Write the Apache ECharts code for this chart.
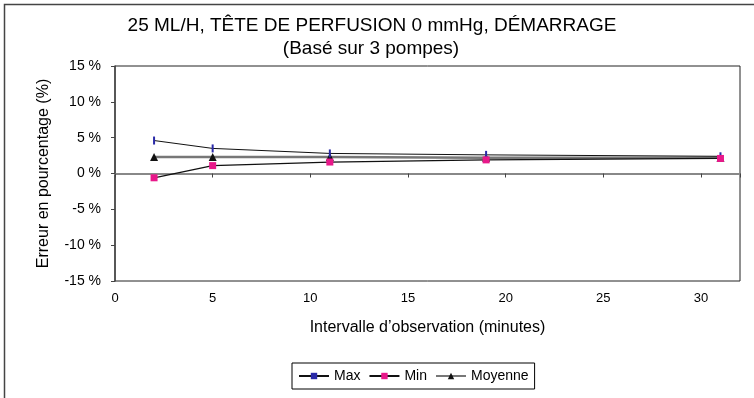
<!DOCTYPE html>
<html>
<head>
<meta charset="utf-8">
<script src="https://cdn.jsdelivr.net/npm/echarts@6/dist/echarts.min.js"></script>
<style>html,body{margin:0;padding:0;background:#fff}#c{width:754px;height:398px}</style>
</head>
<body>
<div id="c"></div>
<script>
const minutes = [2, 5, 11, 19, 31];
const maxVals = [4.6, 3.5, 2.8, 2.6, 2.4];
const minVals = [-0.6, 1.1, 1.6, 1.9, 2.1];
const moyVals = [2.3, 2.3, 2.3, 2.2, 2.2];
const xTicks = [0, 5, 10, 15, 20, 25, 30];
const yTicks = [-15, -10, -5, 0, 5, 10, 15];
const seriesNames = ['Max', 'Min', 'Moyenne'];
const titleLine1 = '25 ML/H, TÊTE DE PERFUSION 0 mmHg, DÉMARRAGE';
const titleLine2 = '(Basé sur 3 pompes)';
const xTitle = 'Intervalle d’observation (minutes)';
const yTitle = 'Erreur en pourcentage (%)';

const F = 'Liberation Sans, Arial, sans-serif';
const chart = echarts.init(document.getElementById('c'));
const pairs = v => minutes.map((m, i) => [m, v[i]]);

chart.setOption({
  animation: false,
  backgroundColor: '#fff',
  textStyle: { fontFamily: F },
  graphic: [{
    type: 'rect', shape: { x: 4.5, y: 4.5, width: 800, height: 500 },
    style: { fill: 'none', stroke: '#444', lineWidth: 1.5 }, z: -1, silent: true
  }],
  title: [
    { text: titleLine1, left: 367, top: 11, textAlign: 'center',
      textStyle: { fontSize: 19, fontWeight: 'normal', color: '#000', fontFamily: F } },
    { text: titleLine2, left: 366, top: 34, textAlign: 'center',
      textStyle: { fontSize: 19, fontWeight: 'normal', color: '#000', fontFamily: F } }
  ],
  grid: { left: 115, right: 14, top: 66, bottom: 117, show: true, borderColor: '#222', borderWidth: 1, backgroundColor: 'transparent' },
  legend: {
    data: seriesNames, left: 292, top: 363, orient: 'horizontal',
    borderColor: '#000', borderWidth: 1, padding: [6, 6, 6, 6], itemGap: 8,
    itemWidth: 30, itemHeight: 8,
    textStyle: { fontSize: 14, color: '#000', fontFamily: F }
  },
  xAxis: [{
    type: 'value', min: xTicks[0], max: 32, interval: xTicks[1] - xTicks[0],
    position: 'bottom', axisLine: { show: false, onZero: false }, axisTick: { show: false },
    splitLine: { show: false },
    axisLabel: { margin: 11, fontSize: 13, color: '#000', fontFamily: F, showMaxLabel: false,
      formatter: v => xTicks.includes(v) ? String(v) : '' },
    name: xTitle, nameLocation: 'middle', nameGap: 39,
    nameTextStyle: { fontSize: 16, color: '#000', fontFamily: F }
  }, {
    type: 'value', min: xTicks[0], max: 32, interval: xTicks[1] - xTicks[0],
    position: 'bottom',
    axisLine: { show: true, onZero: true, lineStyle: { color: '#888', width: 2 } },
    axisTick: { show: true, inside: false, length: 4, lineStyle: { color: '#444', width: 1 } },
    axisLabel: { show: false }, splitLine: { show: false }
  }],
  yAxis: {
    type: 'value', min: yTicks[0], max: yTicks[yTicks.length - 1], interval: yTicks[1] - yTicks[0],
    axisLine: { show: true, lineStyle: { color: '#444', width: 1.5 } },
    axisTick: { show: true, length: 4, lineStyle: { color: '#444' } },
    splitLine: { show: false },
    axisLabel: { margin: 14, fontSize: 14, color: '#000', fontFamily: F, formatter: '{value} %' },
    name: yTitle, nameLocation: 'middle', nameRotate: 90, nameGap: 63,
    nameTextStyle: { fontSize: 16, color: '#000', fontFamily: F }
  },
  series: [
    { name: seriesNames[0], type: 'line', data: pairs(maxVals), xAxisIndex: 0,
      symbol: 'rect', symbolSize: [2, 8], showAllSymbol: true,
      itemStyle: { color: '#2a2aa8' }, lineStyle: { color: '#111', width: 1 } },
    { name: seriesNames[1], type: 'line', data: pairs(minVals), xAxisIndex: 0,
      symbol: 'rect', symbolSize: 7,
      itemStyle: { color: '#e8188a' }, lineStyle: { color: '#111', width: 1.3 } },
    { name: seriesNames[2], type: 'line', data: pairs(moyVals), xAxisIndex: 0,
      symbol: 'triangle', symbolSize: 8,
      itemStyle: { color: '#111' }, lineStyle: { color: '#777', width: 2.5 }, z: 1 }
  ]
});
</script>
</body>
</html>
